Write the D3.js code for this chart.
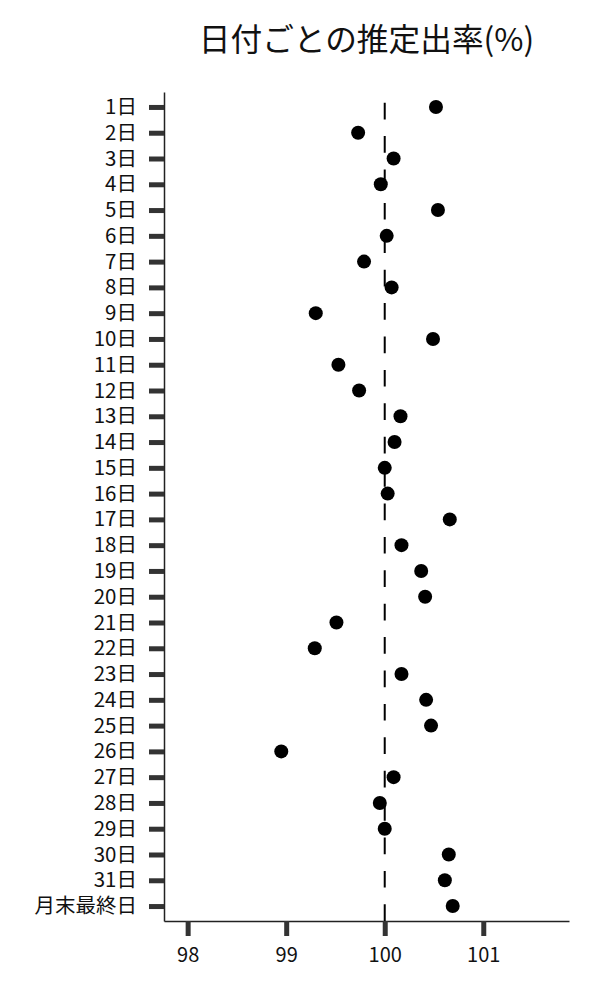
<!DOCTYPE html>
<html>
<head>
<meta charset="utf-8">
<script src="https://cdn.jsdelivr.net/npm/d3@7"></script>
<style>
  body { margin: 0; background: #fff; }
  svg { font-family: "Noto Sans CJK JP", "Noto Sans", sans-serif; }
</style>
</head>
<body>
<svg id="svg"></svg>
<script>
const svg = d3.select("#svg")
    .attr("width", 600)
    .attr("height", 1000)

// data
const days = [
    "1日", "2日", "3日", "4日", "5日", "6日", "7日", "8日", "9日", "10日",
    "11日", "12日", "13日", "14日", "15日", "16日", "17日", "18日", "19日", "20日",
    "21日", "22日", "23日", "24日", "25日", "26日", "27日", "28日", "29日", "30日",
    "31日", "月末最終日"
]
const rates = [
    100.52, 99.73, 100.09, 99.96, 100.54, 100.02, 99.79, 100.07, 99.30, 100.49,
    99.53, 99.74, 100.16, 100.10, 100.00, 100.03, 100.66, 100.17, 100.37, 100.41,
    99.51, 99.29, 100.17, 100.42, 100.47, 98.95, 100.09, 99.95, 100.00, 100.65,
    100.61, 100.69
]
const xTicks = [98, 99, 100, 101]
const baseline = 100
const title = "日付ごとの推定出率(%)"

const plotLeft = 164, plotRight = 569, plotTop = 92, plotBottom = 921

const x = d3.scaleLinear()
    .domain([97.76, 101.87])
    .range([plotLeft, plotRight])

const y = d3.scalePoint()
    .domain(days)
    .range([plotTop, plotBottom])
    .padding(0.58)

// title
svg.append("text")
    .attr("x", (plotLeft + plotRight) / 2)
    .attr("y", 51)
    .attr("text-anchor", "middle")
    .attr("font-size", 31.7)
    .attr("fill", "#111")
    .text(title)

// x axis
const xAxis = svg.append("g")
    .attr("transform", `translate(0,${plotBottom})`)
    .call(d3.axisBottom(x).tickValues(xTicks).tickSize(15).tickSizeOuter(0).tickPadding(12).tickFormat(d3.format("d")))
xAxis.select(".domain").attr("stroke", "#222").attr("stroke-width", 1.5)
xAxis.selectAll(".tick line").attr("stroke", "#333").attr("stroke-width", 5)
xAxis.selectAll(".tick text")
    .attr("font-size", 20)
    .attr("fill", "#111")
    .attr("font-family", "'Noto Sans CJK JP', sans-serif")

// y axis
const yAxis = svg.append("g")
    .attr("transform", `translate(${plotLeft},0)`)
    .call(d3.axisLeft(y).tickSize(15).tickSizeOuter(0).tickPadding(12))
yAxis.select(".domain").attr("stroke", "#222").attr("stroke-width", 1.5)
yAxis.selectAll(".tick line").attr("stroke", "#333").attr("stroke-width", 5)
yAxis.selectAll(".tick text")
    .attr("font-size", 20.5)
    .attr("fill", "#111")
    .attr("font-family", "'Noto Sans CJK JP', sans-serif")

// reference line at 100, dashes start at the bottom
svg.append("line")
    .attr("x1", x(baseline))
    .attr("x2", x(baseline))
    .attr("y1", plotBottom)
    .attr("y2", plotTop)
    .attr("stroke", "#000")
    .attr("stroke-width", 2)
    .attr("stroke-dasharray", "16.7,16.7")

// dots
svg.append("g")
    .selectAll("circle")
    .data(days)
    .join("circle")
    .attr("cx", (d, i) => x(rates[i]))
    .attr("cy", d => y(d))
    .attr("r", 7)
    .attr("fill", "#000")
</script>
</body>
</html>
